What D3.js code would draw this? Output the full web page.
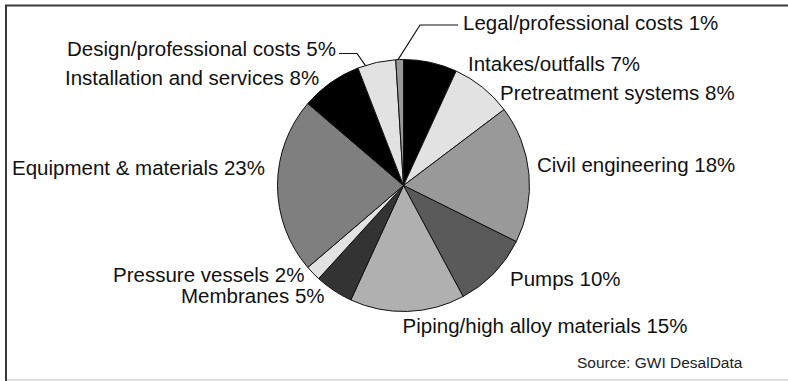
<!DOCTYPE html>
<html><head><meta charset="utf-8">
<script src="https://cdn.jsdelivr.net/npm/d3@7"></script>
<style>html,body{margin:0;padding:0;background:#fff;}svg{display:block;}</style>
</head><body>
<svg id="chart" width="788" height="381"></svg>
<script>
// ---- data ----
const categories = ["Intakes/outfalls","Pretreatment systems","Civil engineering","Pumps","Piping/high alloy materials","Membranes","Pressure vessels","Equipment & materials","Installation and services","Design/professional costs","Legal/professional costs"];
const shares = [7, 8, 18, 10, 15, 5, 2, 23, 8, 5, 1];
const fills = ["#000000","#e2e2e2","#999999","#5a5a5a","#b0b0b0","#333333","#e2e2e2","#7f7f7f","#000000","#e2e2e2","#999999"];
const sourceNote = "Source: GWI DesalData";

// ---- layout (label placement) ----
const labelLayout = [
  {x:468, y:71, a:"start"},
  {x:500, y:100, a:"start"},
  {x:537, y:172, a:"start"},
  {x:510, y:286, a:"start"},
  {x:545, y:333, a:"middle"},
  {x:181, y:303, a:"start"},
  {x:113, y:282, a:"start"},
  {x:12,  y:175, a:"start"},
  {x:65,  y:85,  a:"start"},
  {x:67,  y:56,  a:"start"},
  {x:463, y:30,  a:"start"}
];

const svg = d3.select("#chart");
// frame
svg.append("line").attr("x1",5).attr("x2",788).attr("y1",5.5).attr("y2",5.5).attr("stroke","#3a3a3a").attr("stroke-width",2);
svg.append("line").attr("x1",6).attr("x2",6).attr("y1",5).attr("y2",381).attr("stroke","#3a3a3a").attr("stroke-width",2);
svg.append("line").attr("x1",7).attr("x2",788).attr("y1",380).attr("y2",380).attr("stroke","#e0e0e0").attr("stroke-width",2);

const cx = 403.5, cy = 185.5, R = 126;
const pie = d3.pie().sort(null).value(d => d).startAngle(0).endAngle(2*Math.PI);
const arcs = pie(shares);
const arc = d3.arc().innerRadius(0).outerRadius(R);

const g = svg.append("g").attr("transform", `translate(${cx},${cy})`);
g.selectAll("path").data(arcs).enter().append("path")
  .attr("d", arc)
  .attr("fill", (d,i) => fills[i])
  .attr("stroke", "#111")
  .attr("stroke-width", 1)
  .attr("stroke-linejoin","round");

// leader lines for small top slices (Legal, Design)
function edgePoint(i, frac) {
  const a = arcs[i].startAngle + (arcs[i].endAngle - arcs[i].startAngle) * frac;
  return [cx + R*Math.sin(a), cy - R*Math.cos(a)];
}
const legalIdx = 10, designIdx = 9;
const pL = edgePoint(legalIdx, 0.3);
svg.append("polyline")
  .attr("points", [pL, [420, 25], [458, 25]].map(p => p.join(",")).join(" "))
  .attr("fill","none").attr("stroke","#111").attr("stroke-width",1.2);
const pD = edgePoint(designIdx, 0.2);
svg.append("polyline")
  .attr("points", [[339, 53.5], [357, 53.5], pD].map(p => p.join(",")).join(" "))
  .attr("fill","none").attr("stroke","#111").attr("stroke-width",1.2);

// labels
svg.selectAll("text.lbl").data(arcs).enter().append("text")
  .attr("class","lbl")
  .attr("x", (d,i) => labelLayout[i].x)
  .attr("y", (d,i) => labelLayout[i].y)
  .attr("text-anchor", (d,i) => labelLayout[i].a)
  .attr("font-family", "'Liberation Sans', Arial, sans-serif")
  .attr("font-size", "20.5px")
  .attr("fill", "#111")
  .text((d,i) => `${categories[i]} ${shares[i]}%`);

svg.append("text")
  .attr("x", 577).attr("y", 368)
  .attr("font-family", "'Liberation Sans', Arial, sans-serif")
  .attr("font-size", "15.5px")
  .attr("fill", "#222")
  .text(sourceNote);
</script>
</body></html>
